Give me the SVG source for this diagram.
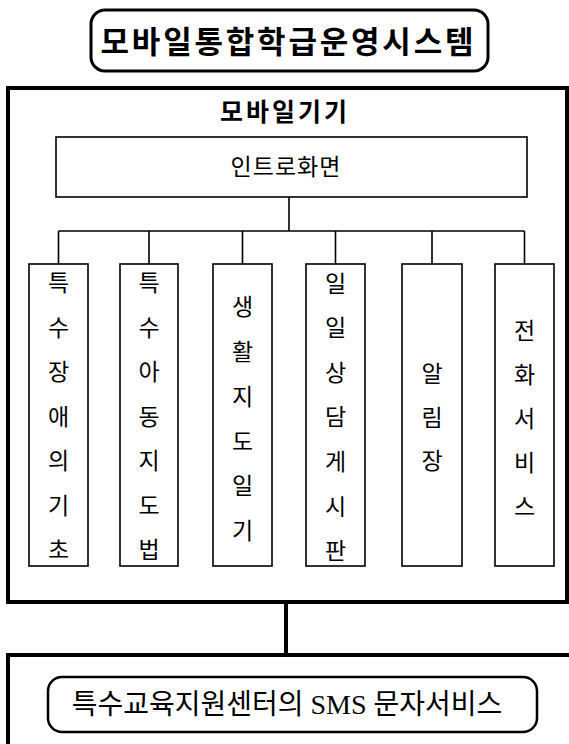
<svg xmlns="http://www.w3.org/2000/svg" width="569" height="744" viewBox="0 0 569 744">
<style>
.thin{fill:#fff;stroke:#000;stroke-width:1.6}
.heavy{fill:none;stroke:#000;stroke-width:4}
.rnd{fill:#fff;stroke:#000;stroke-width:3}
.ln{fill:none;stroke:#000;stroke-width:1.6}
text{font-family:"Liberation Serif","Noto Sans CJK KR",serif;fill:#000;text-anchor:middle;dominant-baseline:central}
.t1{font-size:31px;font-weight:700}
.t2{font-size:25px;font-weight:700;letter-spacing:3px}
.t3{font-size:23px;letter-spacing:1px}
.v{font-size:23px}
.t4{font-size:28px}
</style>
<rect width="569" height="744" fill="#fff"/>
<g id="title">
<rect class="rnd" x="91" y="10" width="397" height="61" rx="14"/>
<text class="t1" x="287" y="42" textLength="373" lengthAdjust="spacing">모바일통합학급운영시스템</text>
</g>
<g id="mobile">
<rect class="heavy" x="8" y="88" width="559" height="514"/>
<text class="t2" x="285" y="112">모바일기기</text>
</g>
<g id="connectors">
<path class="ln" d="M289 197V231M58.5 231H524.5M58.5 231V264M149 231V264M242.5 231V264M335.5 231V264M432 231V264M524.5 231V264"/>
<path class="heavy" d="M286 602V655"/>
</g>
<g id="intro">
<rect class="thin" x="56" y="137" width="471" height="60"/>
<text class="t3" x="286" y="167">인트로화면</text>
</g>
<g id="n1">
<rect class="thin" x="29" y="264" width="59" height="302"/>
<text class="v"><tspan x="58.5" y="283">특</tspan><tspan x="58.5" y="327.5">수</tspan><tspan x="58.5" y="372">장</tspan><tspan x="58.5" y="416.5">애</tspan><tspan x="58.5" y="461">의</tspan><tspan x="58.5" y="505.5">기</tspan><tspan x="58.5" y="550">초</tspan></text>
</g>
<g id="n2">
<rect class="thin" x="120" y="264" width="58" height="302"/>
<text class="v"><tspan x="149" y="283">특</tspan><tspan x="149" y="327.5">수</tspan><tspan x="149" y="372">아</tspan><tspan x="149" y="416.5">동</tspan><tspan x="149" y="461">지</tspan><tspan x="149" y="505.5">도</tspan><tspan x="149" y="550">법</tspan></text>
</g>
<g id="n3">
<rect class="thin" x="213" y="264" width="59" height="302"/>
<text class="v"><tspan x="242.5" y="307">생</tspan><tspan x="242.5" y="352">활</tspan><tspan x="242.5" y="396.5">지</tspan><tspan x="242.5" y="441.5">도</tspan><tspan x="242.5" y="486">일</tspan><tspan x="242.5" y="531">기</tspan></text>
</g>
<g id="n4">
<rect class="thin" x="306" y="264" width="59" height="302"/>
<text class="v"><tspan x="335.5" y="284">일</tspan><tspan x="335.5" y="328">일</tspan><tspan x="335.5" y="373">상</tspan><tspan x="335.5" y="417">담</tspan><tspan x="335.5" y="462">게</tspan><tspan x="335.5" y="507">시</tspan><tspan x="335.5" y="551">판</tspan></text>
</g>
<g id="n5">
<rect class="thin" x="402" y="264" width="60" height="302"/>
<text class="v"><tspan x="432" y="374">알</tspan><tspan x="432" y="418">림</tspan><tspan x="432" y="461">장</tspan></text>
</g>
<g id="n6">
<rect class="thin" x="495" y="264" width="59" height="302"/>
<text class="v"><tspan x="524.5" y="331">전</tspan><tspan x="524.5" y="375">화</tspan><tspan x="524.5" y="419">서</tspan><tspan x="524.5" y="463">비</tspan><tspan x="524.5" y="507">스</tspan></text>
</g>
<g id="center">
<path class="heavy" d="M8 744V655H569"/>
<rect class="rnd" x="48" y="677" width="489" height="55" rx="14" style="stroke-width:2.5"/>
<text class="t4" x="287" y="704">특수교육지원센터의 SMS 문자서비스</text>
</g>
</svg>
